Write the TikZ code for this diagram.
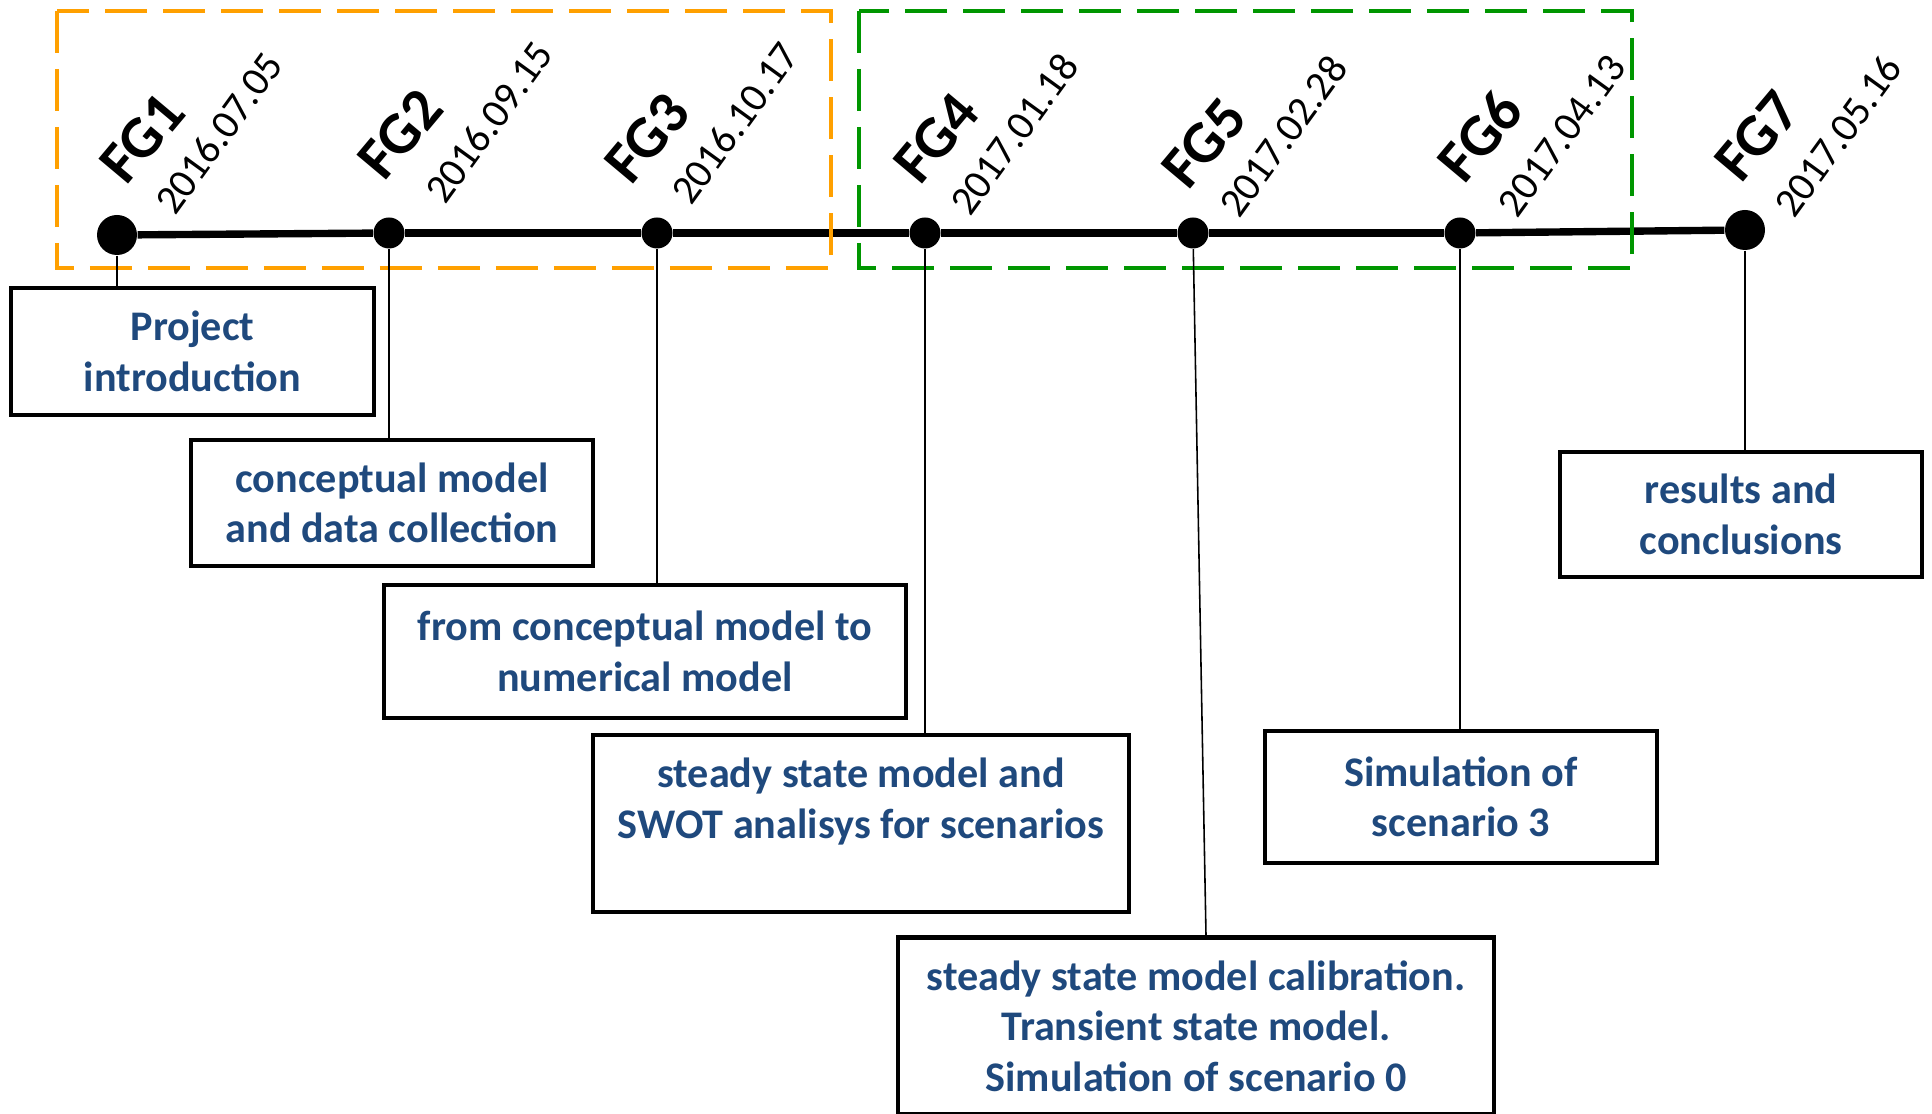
\documentclass[tikz,border=0pt]{standalone}
\usepackage{fontspec}
\setmainfont{Carlito}
\usetikzlibrary{positioning}
\definecolor{txtblue}{RGB}{31,73,125}
\definecolor{fgorange}{RGB}{255,160,0}
\definecolor{fggreen}{RGB}{0,150,0}

\begin{document}
\begin{tikzpicture}[x=0.1mm,y=-0.1mm,
  box/.style={draw,line width=1.2pt,align=center,text=txtblue,inner sep=0pt,
    font=\fontsize{12}{14.4}\selectfont\bfseries},
  dot/.style={circle,fill=black,inner sep=0pt,minimum size=3.1mm},
  bigdot/.style={dot,minimum size=4mm},
  fg/.style={rotate=50,font=\fontsize{17}{19}\selectfont\bfseries},
  dt/.style={rotate=54,font=\fontsize{11.7}{13}\selectfont},
  grp/.style={line width=1.4pt,dash pattern=on 4.2mm off 1.6mm},
  conn/.style={line width=0.45pt}]
  \useasboundingbox (0,0) rectangle (1932,1114);
  % meetings on the time line
  \node[bigdot] (d1) at (117,235) {};
  \foreach \n/\x in {2/389,3/657,4/925,5/1193,6/1460}
    \node[dot] (d\n) at (\x,233) {};
  \node[bigdot] (d7) at (1745,230) {};
  \foreach \a/\bb in {d1/d2,d2/d3,d3/d4,d4/d5,d5/d6,d6/d7}{\draw[line width=2.1pt] (\a) -- (\bb);}
  % names and dates
  \foreach \n/\x/\y/\t in {1/142/138/FG1,2/400/134/FG2,3/647/138/FG3,4/936/138/FG4,
      5/1204/143/FG5,6/1480/136/FG6,7/1757/136/FG7}
    \node[fg] (l\n) at (\x,\y) {\t};
  \foreach \n/\x/\y/\t in {1/219/133/2016.07.05,2/489/122/2016.09.15,3/735/123/2016.10.17,
      4/1014/134/2017.01.18,5/1283/136/2017.02.28,6/1562/136/2017.04.13,7/1838/136/2017.05.16}
    \node[dt] (t\n) at (\x,\y) {\t};
  % groups
  \draw[grp,fgorange] (57,11) rectangle (831,268);
  \draw[grp,fggreen] (859,11) rectangle (1632,268);
  % topics
  \node[box,minimum width=36.3mm,minimum height=12.7mm] (b1) at (192.5,351.5) {Project\\introduction};
  \node[box,minimum width=40.2mm,minimum height=12.6mm] (b2) at (392,503) {conceptual model\\and data collection};
  \node[box,minimum width=52.2mm,minimum height=13.3mm] (b3) at (645,651.5) {from conceptual model to\\numerical model};
  \node[box,minimum width=53.6mm,minimum height=17.7mm] (b4) at (861,823.5) {steady state model and\\SWOT analisys for scenarios\\\mbox{}};
  \node[box,minimum width=59.6mm,minimum height=17.7mm] (b5) at (1196,1026) {steady state model calibration.\\Transient state model.\\Simulation of scenario 0};
  \node[box,minimum width=39.2mm,minimum height=13.2mm] (b6) at (1461,797) {Simulation of\\scenario 3};
  \node[box,minimum width=36.2mm,minimum height=12.5mm] (b7) at (1741,514.5) {results and\\conclusions};
  \foreach \n in {1,2,3,4,6,7}{\draw[conn] (d\n) -- (d\n |- b\n.north);}
  \draw[conn] (d5) -- ([xshift=1.3mm]d5 |- b5.north);
\end{tikzpicture}
\end{document}
